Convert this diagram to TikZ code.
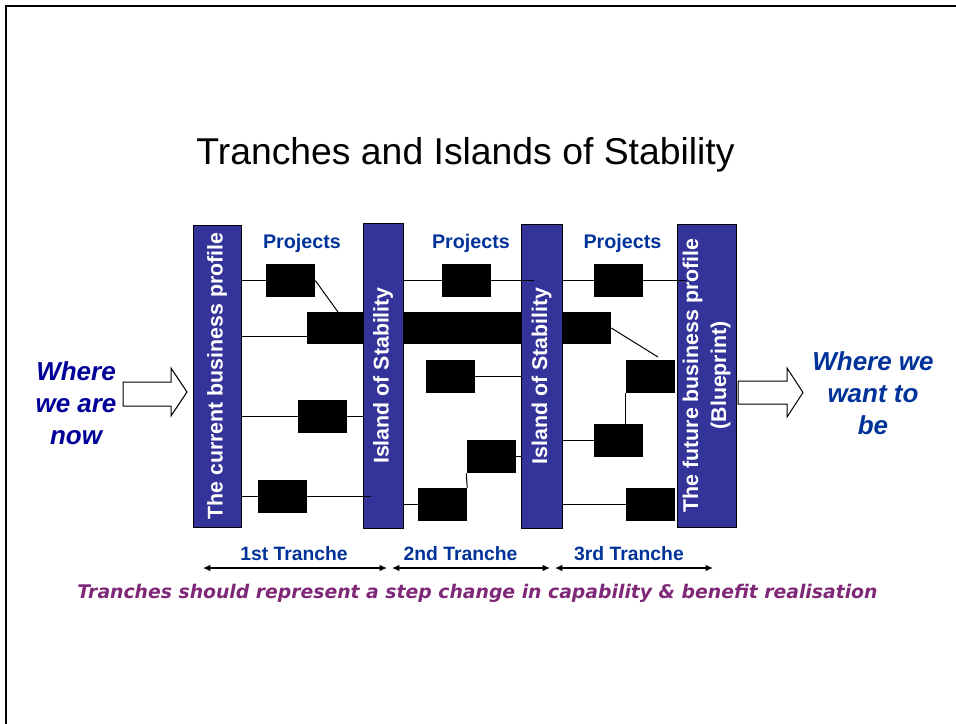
\documentclass[tikz,border=0pt]{standalone}
\usepackage{fontspec}
\setmainfont{Liberation Sans}
\newfontfamily\notefont{DejaVu Sans}
\usetikzlibrary{arrows.meta}
\definecolor{barblue}{RGB}{51,51,153}
\definecolor{labelblue}{RGB}{0,51,153}
\definecolor{navyblue}{RGB}{0,0,153}
\definecolor{notepurple}{RGB}{128,40,120}
\begin{document}
\begin{tikzpicture}[x=0.75pt, y=-0.75pt,
    profile/.style ={draw, fill=barblue, text=white, inner sep=0pt, line width=0.75pt,
                     font=\bfseries\fontsize{16}{21}\selectfont},
    project/.style ={fill=black, minimum width=36.75pt, minimum height=24.75pt, inner sep=0pt},
    link/.style ={line width=0.75pt},
    heading/.style ={text=labelblue, anchor=base, inner sep=0pt, font=\bfseries\fontsize{14.8}{17}\selectfont},
    place/.style ={align=center, inner sep=0pt, font=\bfseries\itshape\fontsize{19.5}{24}\selectfont},
    tranche/.style ={line width=1pt, <->, >={Latex[length=5.5pt,width=5pt]}},
    bigarrow/.style ={draw, fill=white, line width=0.75pt}]
   \useasboundingbox (0,0) rectangle (956,724);
   \draw[line width=1.5pt] (6,724) -- (6,6) -- (956,6);

   \node[anchor=base, inner sep=0pt, font=\fontsize{28}{32}\selectfont] (title) at (465.5,164) {Tranches and Islands of Stability};

   \node[project, minimum width=228pt, minimum height=24pt] (long) at (459,328) {};

   \node[profile, minimum width=36pt, minimum height=226.5pt] (cur) at (217,376)
      {\rotatebox{90}{The current business profile}};
   \node[profile, minimum width=30pt, minimum height=228.75pt] (isl1) at (383,375.5)
      {\rotatebox{90}{Island of Stability}};
   \node[profile, minimum width=30.75pt, minimum height=228pt] (isl2) at (541.5,376)
      {\rotatebox{90}{Island of Stability}};
   \node[profile, minimum width=44.25pt, minimum height=227.25pt] (fut) at (706.5,375.5)
      {\rotatebox{90}{\begin{tabular}{@{}c@{}}The future business profile\\(Blueprint)\end{tabular}}};

   \node[heading] (proj1) at (302,248) {Projects};
   \node[heading] (proj2) at (471,248) {Projects};
   \node[heading] (proj3) at (622.5,248) {Projects};

   \node[project] (p1a) at (290.5,280.5) {};
   \node[project] (p1c) at (322.5,416.5) {};
   \node[project] (p1d) at (282.5,496.5) {};
   \node[project] (p2a) at (466.5,280.5) {};
   \node[project] (p2b) at (450.5,376.5) {};
   \node[project] (p2c) at (491,456.5) {};
   \node[project] (p2d) at (442.5,504.5) {};
   \node[project] (p3a) at (618.5,280.5) {};
   \node[project] (p3b) at (650.5,376.5) {};
   \node[project] (p3c) at (618.5,440.5) {};
   \node[project] (p3d) at (650.5,504.5) {};

   \coordinate (j1) at (338,312);
   \coordinate (j2) at (307,336);
   \coordinate (j3) at (658,357);
   \coordinate (e1) at (371,496.5);
   \coordinate (e2) at (534,280.5);
   \coordinate (e3) at (686,280.5);

   \draw[link] (cur.east |- p1a.west) -- (p1a.west);
   \draw[link] (p1a.east) -- (j1);
   \draw[link] (cur.east |- j2) -- (j2);
   \draw[link] (cur.east |- p1c.west) -- (p1c.west);
   \draw[link] (p1c.east) -- (isl1.west |- p1c.east);
   \draw[link] (cur.east |- p1d.west) -- (p1d.west);
   \draw[link] (p1d.east) -- (e1);

   \draw[link] (isl1.east |- p2a.west) -- (p2a.west);
   \draw[link] (p2a.east) -- (e2);
   \draw[link] (p2b.east) -- (isl2.west |- p2b.east);
   \draw[link] (p2c.east) -- (isl2.west |- p2c.east);
   \draw[link] (isl1.east |- p2d.west) -- (p2d.west);
   \draw[link] (p2d.north east) -- (p2c.south west);

   \draw[link] (isl2.east |- p3a.west) -- (p3a.west);
   \draw[link] (p3a.east) -- (e3);
   \draw[link] (long.east) -- (j3);
   \draw[link] (isl2.east |- p3c.west) -- (p3c.west);
   \draw[link] (p3b.south west) -- (p3b.south west |- p3c.north);
   \draw[link] (isl2.east |- p3d.west) -- (p3d.west);

   \draw[bigarrow] (123,382) -- (171,382) -- (171,368) -- (187,392) -- (171,416) -- (171,406) -- (123,406) -- cycle;
   \draw[bigarrow] (738,381) -- (787,381) -- (787,368) -- (803,392.5) -- (787,417) -- (787,404) -- (738,404) -- cycle;

   \node[place, text=navyblue] (now) at (76,403) {Where\\we are\\now};
   \node[place, text=labelblue] (want) at (873,393) {Where we\\want to\\be};

   \coordinate (t1a) at (203,568);
   \coordinate (t1b) at (387,568);
   \coordinate (t2a) at (392,568);
   \coordinate (t2b) at (550,568);
   \coordinate (t3a) at (555,568);
   \coordinate (t3b) at (713,568);
   \draw[tranche] (t1a) -- (t1b);
   \draw[tranche] (t2a) -- (t2b);
   \draw[tranche] (t3a) -- (t3b);

   \node[heading, font=\bfseries\fontsize{14.5}{17}\selectfont] (tr1) at (294,560) {1st Tranche};
   \node[heading, font=\bfseries\fontsize{14.5}{17}\selectfont] (tr2) at (460.5,560) {2nd Tranche};
   \node[heading, font=\bfseries\fontsize{14.5}{17}\selectfont] (tr3) at (629,560) {3rd Tranche};

   \node[anchor=base, inner sep=0pt, text=notepurple, font=\notefont\bfseries\itshape\fontsize{14.1}{17}\selectfont] (note) at (477.5,598)
      {Tranches should represent a step change in capability \& benefit realisation};
\end{tikzpicture}
\end{document}
